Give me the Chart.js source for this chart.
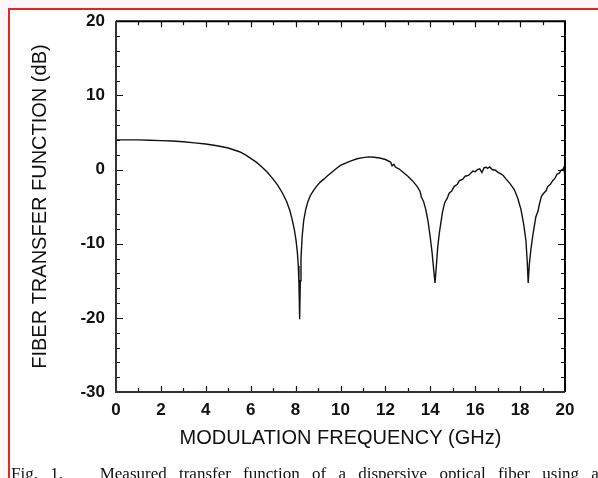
<!DOCTYPE html>
<html>
<head>
<meta charset="utf-8">
<script src="https://cdn.jsdelivr.net/npm/chart.js@4"></script>
<style>
    html, body { margin: 0; padding: 0; }
    body { width: 598px; height: 478px; overflow: hidden; position: relative; background: #fdf7f7; }
    #frame {
        position: absolute; left: 8px; top: 8px; right: 0; bottom: 0;
        background: #fff; border-top: 2px solid #e52424; border-left: 2px solid #e52424;
    }
    #plot { position: absolute; left: 0; top: 0; }
    #caption {
        position: absolute; left: 11px; top: 465px;
        font: 17px/17px 'Liberation Serif', serif; color: #111;
        white-space: pre; word-spacing: 8px;
    }
</style>
</head>
<body>
<div id="frame"></div>
<canvas id="plot" width="598" height="478"></canvas>
<div id="caption">Fig. 1.   Measured transfer function of a dispersive optical fiber using an</div>
<script>
// (GHz, dB)
const freqGHz = [
    0.0, 0.5, 1.0, 1.5, 2.0, 2.5, 3.0, 3.5, 4.0, 4.5, 5.0, 5.5, 5.75, 6.0, 6.25, 6.5, 6.75, 7.0, 7.2, 7.4,
    7.6, 7.75, 7.85, 7.95, 8.02, 8.08, 8.12, 8.15, 8.18, 8.21, 8.24, 8.29, 8.36, 8.45, 8.55, 8.66, 8.8, 8.95,
    9.1, 9.26, 9.4, 9.6, 9.8, 10.0, 10.25, 10.5, 10.74, 11.0, 11.26, 11.5, 11.75, 12.0, 12.23, 12.3, 12.38,
    12.45, 12.6, 12.8, 13.0, 13.2, 13.42, 13.55, 13.6, 13.7, 13.8, 13.9, 14.0, 14.08, 14.15, 14.21, 14.27,
    14.33, 14.4, 14.46, 14.55, 14.65, 14.75, 14.84, 14.95, 15.06, 15.2, 15.3, 15.45, 15.55, 15.7, 15.8,
    15.9, 16.0, 16.1, 16.2, 16.3, 16.4, 16.5, 16.55, 16.65, 16.75, 16.9, 17.0, 17.14, 17.25, 17.35, 17.55,
    17.74, 17.9, 18.04, 18.16, 18.26, 18.32, 18.36, 18.41, 18.48, 18.56, 18.7, 18.8, 18.85, 18.95, 19.05,
    19.15, 19.23, 19.35, 19.45, 19.55, 19.65, 19.75, 19.82, 19.9, 19.95, 19.98, 20.0
];
const transferDb = [
    4.0, 4.0, 4.0, 3.95, 3.9, 3.85, 3.75, 3.6, 3.45, 3.2, 2.9, 2.4, 2.0, 1.5, 1.0, 0.35, -0.4, -1.3, -2.1, -3.1,
    -4.3, -5.6, -6.8, -8.2, -9.6, -11.2, -13.0, -15.5, -20.2, -15.0, -12.0, -9.1, -6.9, -5.4, -4.3, -3.5, -2.8, -2.2,
    -1.7, -1.3, -0.9, -0.4, 0.1, 0.55, 0.9, 1.2, 1.45, 1.6, 1.7, 1.65, 1.55, 1.35, 1.0, 0.5, 0.7,
    0.3, 0.1, -0.4, -0.9, -1.5, -2.3, -3.0, -3.7, -4.3, -5.4, -7.0, -9.2, -11.2, -13.5, -15.3, -13.0,
    -10.5, -8.6, -7.4, -5.6, -4.4, -3.9, -3.2, -2.9, -2.3, -2.0, -1.5, -1.3, -0.9, -0.8, -0.5,
    -0.2, -0.3, 0.0, 0.1, -0.4, 0.25, 0.3, 0.15, 0.35, 0.0, -0.1, -0.35, -0.6, -0.8, -1.2, -1.9,
    -2.7, -3.9, -5.4, -7.4, -9.6, -12.5, -15.3, -12.8, -10.8, -9.0, -6.4, -5.6, -4.8, -3.6, -3.2,
    -2.9, -2.3, -2.0, -1.5, -1.2, -0.6, -0.5, -0.1, 0.0, 0.3, -0.5, -1.9
];
const xTicks = [0, 2, 4, 6, 8, 10, 12, 14, 16, 18, 20];
const yTicks = [-30, -20, -10, 0, 10, 20];

const TICK_FONT = { family: 'Liberation Sans', size: 17, weight: 'bold' };
const TITLE_FONT = { family: 'Liberation Sans', size: 20 };

// frame plus inward ticks on all four sides
const frameTicks = {
    id: 'frameTicks',
    afterDatasetsDraw (chart) {
        const { ctx, chartArea: a, scales: { x, y } } = chart;
        ctx.save();
        ctx.strokeStyle = '#111';
        ctx.lineWidth = 1.2;
        ctx.beginPath();
        for (let v = 1; v < 20; v++) {
            const px = Math.round(x.getPixelForValue(v)) + 0.5;
            const len = v % 2 === 0 ? 6 : 4;
            ctx.moveTo(px, a.bottom); ctx.lineTo(px, a.bottom - len);
            ctx.moveTo(px, a.top); ctx.lineTo(px, a.top + len);
        }
        for (let v = -28; v < 20; v += 2) {
            const py = Math.round(y.getPixelForValue(v)) + 0.5;
            const len = v % 10 === 0 ? 7 : 4;
            ctx.moveTo(a.left, py); ctx.lineTo(a.left + len, py);
            ctx.moveTo(a.right, py); ctx.lineTo(a.right - len, py);
        }
        ctx.stroke();
        ctx.lineWidth = 2;
        ctx.strokeStyle = '#000';
        ctx.beginPath();
        ctx.moveTo(a.left, a.top); ctx.lineTo(a.right, a.top); ctx.lineTo(a.right, a.bottom);
        ctx.stroke();
        ctx.strokeStyle = '#333';
        ctx.beginPath();
        ctx.moveTo(a.left, a.top); ctx.lineTo(a.left, a.bottom); ctx.lineTo(a.right, a.bottom);
        ctx.stroke();
        ctx.restore();
    }
};

new Chart(document.getElementById('plot'), {
    type: 'line',
    data: {
        datasets: [{
            data: freqGHz.map((f, i) => ({ x: f, y: transferDb[i] })),
            borderColor: '#111',
            borderWidth: 1.4,
            pointRadius: 0,
            tension: 0,
            fill: false
        }]
    },
    options: {
        responsive: false,
        animation: false,
        layout: { padding: { left: 0, top: 15, right: 33, bottom: 0 } },
        plugins: { legend: { display: false }, tooltip: { enabled: false } },
        scales: {
            x: {
                type: 'linear',
                min: 0,
                max: 20,
                afterFit: scale => { scale.height = 86; },
                afterBuildTicks: scale => { scale.ticks = xTicks.map(v => ({ value: v })); },
                grid: { display: false, drawTicks: false },
                border: { display: false },
                ticks: { color: '#111', font: TICK_FONT, padding: 8, maxRotation: 0 },
                title: {
                    display: true,
                    text: 'MODULATION FREQUENCY (GHz)',
                    color: '#111',
                    font: TITLE_FONT,
                    padding: { top: 0, bottom: 28 }
                }
            },
            y: {
                min: -30,
                max: 20,
                afterFit: scale => { scale.width = 116; },
                afterBuildTicks: scale => { scale.ticks = yTicks.map(v => ({ value: v })); },
                grid: { display: false, drawTicks: false },
                border: { display: false },
                ticks: { color: '#111', font: TICK_FONT, padding: 11 },
                title: {
                    display: true,
                    text: 'FIBER TRANSFER FUNCTION (dB)',
                    color: '#111',
                    font: TITLE_FONT,
                    padding: { top: 28, bottom: 0 }
                }
            }
        }
    },
    plugins: [frameTicks]
});
</script>
</body>
</html>
